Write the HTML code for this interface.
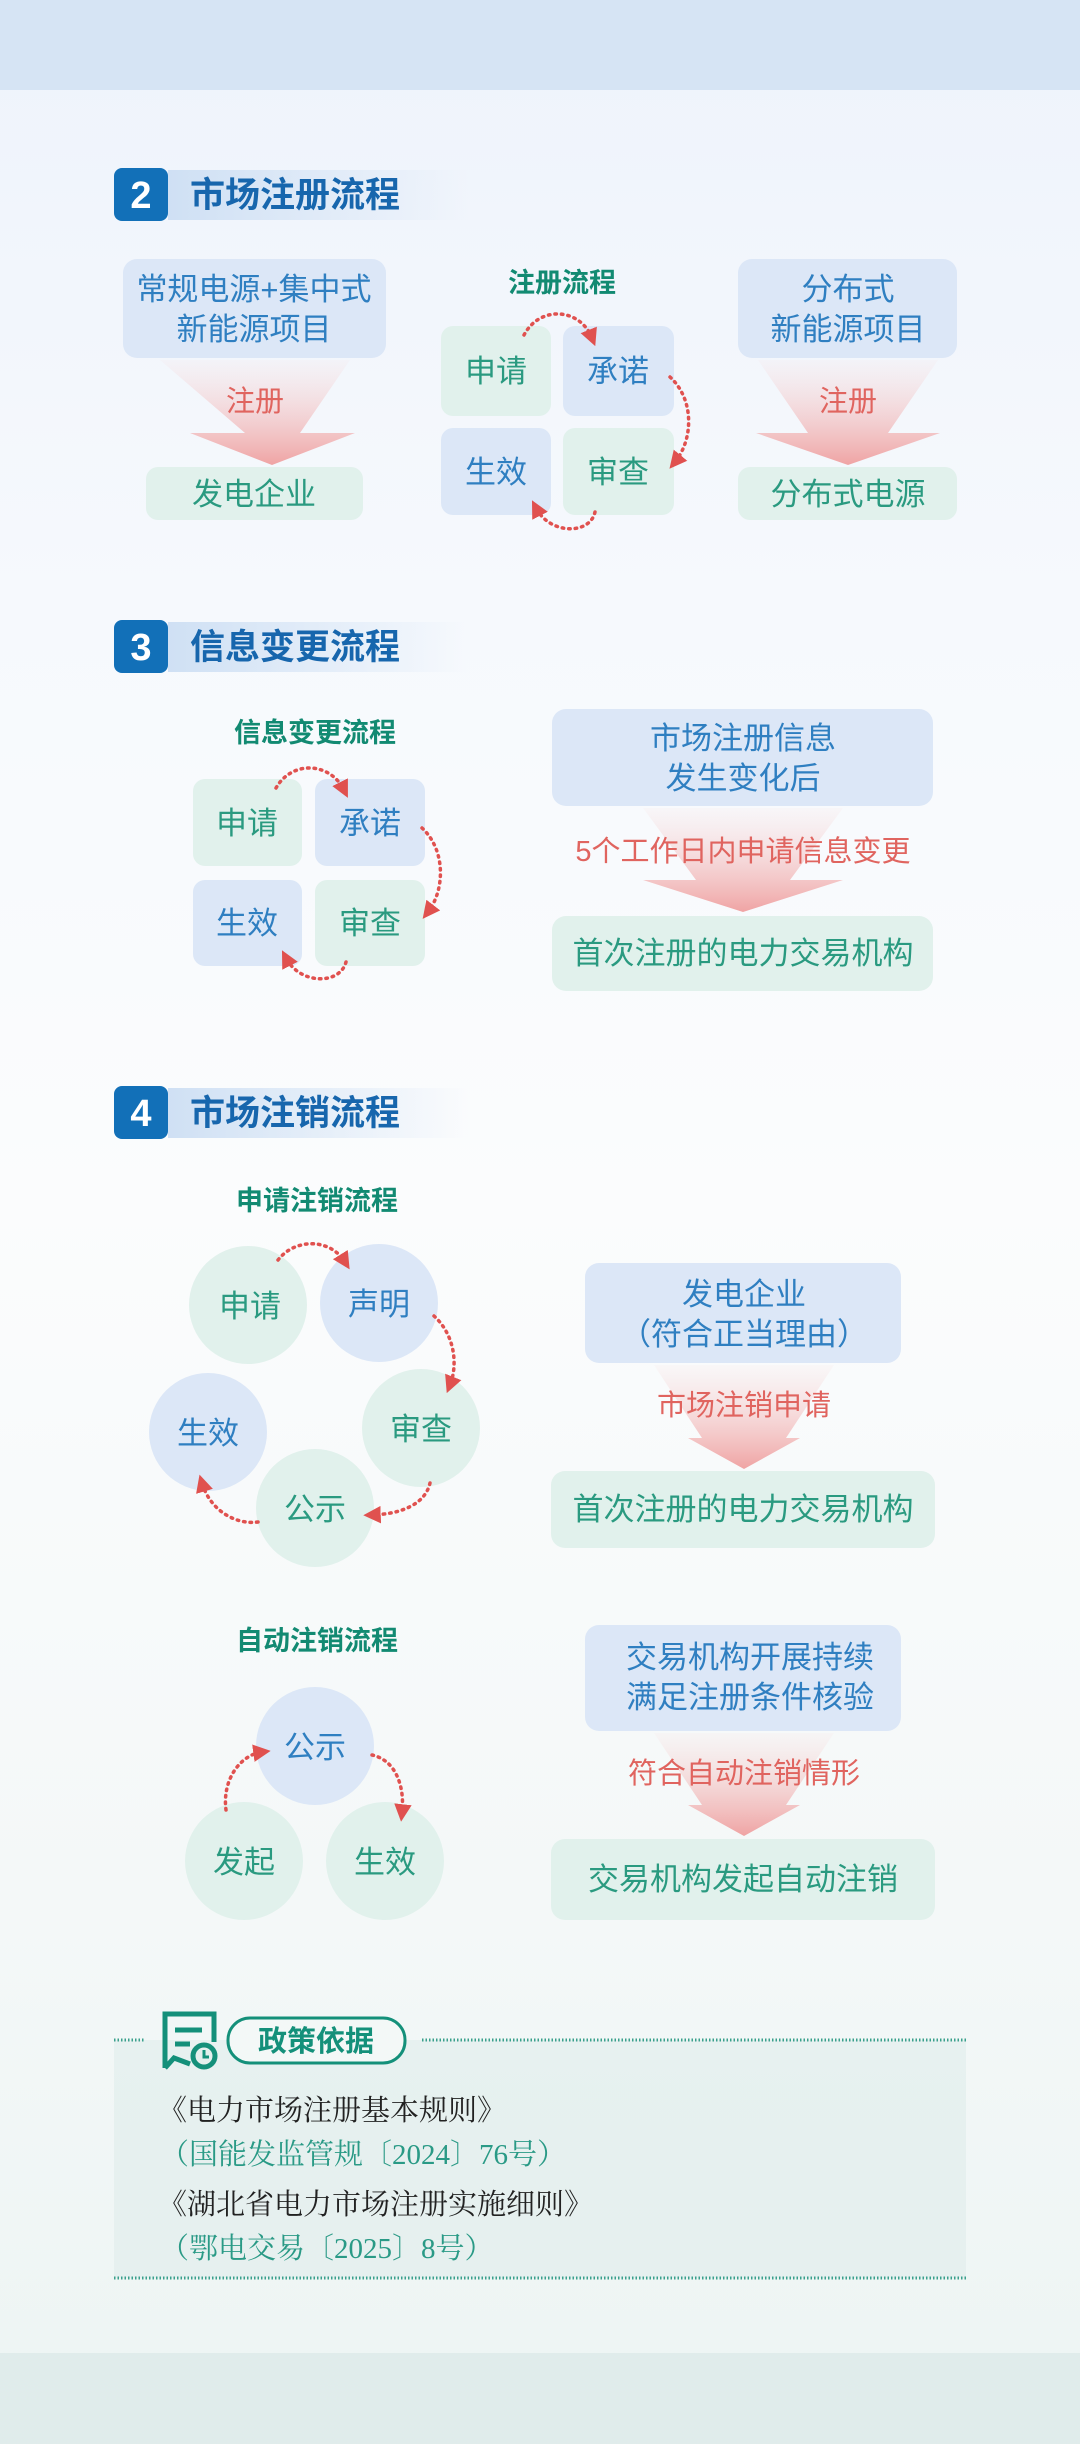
<!DOCTYPE html>
<html><head><meta charset="utf-8">
<style>
html,body{margin:0;padding:0;}
body{width:1080px;height:2444px;overflow:hidden;background:linear-gradient(#eef3fb 0px,#f6f9fd 600px,#fbfcfd 1200px,#f4f8f8 1900px,#eef5f4 2350px);}
svg{display:block;}
text{font-family:"Liberation Sans","Noto Sans CJK SC",sans-serif;}
</style></head><body>
<svg width="1080" height="2444" viewBox="0 0 1080 2444" xmlns="http://www.w3.org/2000/svg">
<defs>
<linearGradient id="ar" x1="0" y1="0" x2="0" y2="1">
<stop offset="0" stop-color="#f6d3d3" stop-opacity="0.1"/>
<stop offset="1" stop-color="#ef9f9f" stop-opacity="0.95"/>
</linearGradient>
<linearGradient id="hb" x1="0" y1="0" x2="1" y2="0">
<stop offset="0" stop-color="#cfe0f4"/>
<stop offset="1" stop-color="#cfe0f4" stop-opacity="0"/>
</linearGradient>
<marker id="m" viewBox="0 0 10 10" refX="5" refY="5" markerWidth="5" markerHeight="5" orient="auto">
<path d="M0,0 L10,5 L0,10 z" fill="#e0514f"/>
</marker>
<style>
.bb{fill:#dce7f7}.gb{fill:#e1f1ec}
.bt{fill:#2f7fc1;font-size:31px}.gt{fill:#2a9a80;font-size:31px}
.rt{fill:#e0645f;font-size:29px}
.st{fill:#128a72;font-size:27px;font-weight:bold}
.ht{fill:#1766ad;font-size:35px;font-weight:bold}
.dl{fill:none;stroke:#e0514f;stroke-width:3.5;stroke-dasharray:1.5 5;stroke-linecap:round}
</style>
</defs>
<rect x="0" y="0" width="1080" height="90" fill="#d6e4f4"/>
<rect x="0" y="2353" width="1080" height="91" fill="#e0eceb"/>

<!-- Section 2 header -->
<rect x="168" y="170" width="300" height="50" fill="url(#hb)"/>
<rect x="114" y="168" width="54" height="53" rx="8" fill="#1270b8"/>
<text x="141" y="208" text-anchor="middle" fill="#fff" font-size="38" font-weight="bold">2</text>
<text x="190" y="207" class="ht">市场注册流程</text>

<!-- left column -->
<rect x="123" y="259" width="263" height="99" rx="14" class="bb"/>
<text x="254" y="300" text-anchor="middle" class="bt">常规电源+集中式</text>
<text x="254" y="340" text-anchor="middle" class="bt">新能源项目</text>
<polygon points="160,360 350,360 300,433 355,433 272,465 190,433 245,433" fill="url(#ar)"/>
<text x="255" y="411" text-anchor="middle" class="rt">注册</text>
<rect x="146" y="467" width="217" height="53" rx="12" class="gb"/>
<text x="254" y="505" text-anchor="middle" class="gt">发电企业</text>

<!-- center grid -->
<text x="562" y="292" text-anchor="middle" class="st">注册流程</text>
<rect x="441" y="326" width="110" height="90" rx="12" class="gb"/>
<rect x="563" y="326" width="111" height="90" rx="12" class="bb"/>
<rect x="441" y="428" width="110" height="87" rx="12" class="bb"/>
<rect x="563" y="428" width="111" height="87" rx="12" class="gb"/>
<text x="496" y="382" text-anchor="middle" class="gt">申请</text>
<text x="618" y="382" text-anchor="middle" class="bt">承诺</text>
<text x="496" y="483" text-anchor="middle" class="bt">生效</text>
<text x="618" y="483" text-anchor="middle" class="gt">审查</text>
<path d="M524,335 C540,305 580,308 592,338" class="dl" marker-end="url(#m)"/>
<path d="M670,377 C695,400 693,440 675,462" class="dl" marker-end="url(#m)"/>
<path d="M595,512 C590,535 550,535 536,508" class="dl" marker-end="url(#m)"/>

<!-- right column -->
<rect x="738" y="259" width="219" height="99" rx="14" class="bb"/>
<text x="848" y="300" text-anchor="middle" class="bt">分布式</text>
<text x="848" y="340" text-anchor="middle" class="bt">新能源项目</text>
<polygon points="758,360 938,360 888,433 940,433 848,465 756,433 808,433" fill="url(#ar)"/>
<text x="848" y="411" text-anchor="middle" class="rt">注册</text>
<rect x="738" y="467" width="219" height="53" rx="12" class="gb"/>
<text x="848" y="505" text-anchor="middle" class="gt">分布式电源</text>

<!-- Section 3 header -->
<rect x="168" y="622" width="300" height="50" fill="url(#hb)"/>
<rect x="114" y="620" width="54" height="53" rx="8" fill="#1270b8"/>
<text x="141" y="660" text-anchor="middle" fill="#fff" font-size="38" font-weight="bold">3</text>
<text x="190" y="659" class="ht">信息变更流程</text>

<text x="315" y="742" text-anchor="middle" class="st">信息变更流程</text>
<rect x="193" y="779" width="109" height="87" rx="12" class="gb"/>
<rect x="315" y="779" width="110" height="87" rx="12" class="bb"/>
<rect x="193" y="880" width="109" height="86" rx="12" class="bb"/>
<rect x="315" y="880" width="110" height="86" rx="12" class="gb"/>
<text x="247" y="834" text-anchor="middle" class="gt">申请</text>
<text x="370" y="834" text-anchor="middle" class="bt">承诺</text>
<text x="247" y="934" text-anchor="middle" class="bt">生效</text>
<text x="370" y="934" text-anchor="middle" class="gt">审查</text>
<path d="M276,788 C292,760 330,762 344,790" class="dl" marker-end="url(#m)"/>
<path d="M422,828 C446,850 445,890 428,912" class="dl" marker-end="url(#m)"/>
<path d="M346,962 C340,985 300,985 286,958" class="dl" marker-end="url(#m)"/>

<rect x="552" y="709" width="381" height="97" rx="14" class="bb"/>
<text x="743" y="749" text-anchor="middle" class="bt">市场注册信息</text>
<text x="743" y="789" text-anchor="middle" class="bt">发生变化后</text>
<polygon points="643,808 843,808 790,880 843,880 743,912 643,880 696,880" fill="url(#ar)"/>
<text x="743" y="861" text-anchor="middle" class="rt">5个工作日内申请信息变更</text>
<rect x="552" y="916" width="381" height="75" rx="14" class="gb"/>
<text x="743" y="964" text-anchor="middle" class="gt">首次注册的电力交易机构</text>

<!-- Section 4 header -->
<rect x="168" y="1088" width="300" height="50" fill="url(#hb)"/>
<rect x="114" y="1086" width="54" height="53" rx="8" fill="#1270b8"/>
<text x="141" y="1126" text-anchor="middle" fill="#fff" font-size="38" font-weight="bold">4</text>
<text x="190" y="1125" class="ht">市场注销流程</text>

<text x="317" y="1210" text-anchor="middle" class="st">申请注销流程</text>
<ellipse cx="248" cy="1305" rx="59" ry="59" class="gb"/>
<ellipse cx="379" cy="1303" rx="59" ry="59" class="bb"/>
<ellipse cx="421" cy="1428" rx="59" ry="59" class="gb"/>
<ellipse cx="208" cy="1432" rx="59" ry="59" class="bb"/>
<ellipse cx="315" cy="1508" rx="59" ry="59" class="gb"/>
<text x="250" y="1317" text-anchor="middle" class="gt">申请</text>
<text x="379" y="1315" text-anchor="middle" class="bt">声明</text>
<text x="421" y="1440" text-anchor="middle" class="gt">审查</text>
<text x="208" y="1444" text-anchor="middle" class="bt">生效</text>
<text x="315" y="1520" text-anchor="middle" class="gt">公示</text>
<path d="M278,1260 C295,1238 330,1238 345,1262" class="dl" marker-end="url(#m)"/>
<path d="M434,1316 C455,1335 458,1365 450,1385" class="dl" marker-end="url(#m)"/>
<path d="M430,1483 C425,1505 400,1514 372,1515" class="dl" marker-end="url(#m)"/>
<path d="M258,1522 C235,1525 210,1510 202,1483" class="dl" marker-end="url(#m)"/>

<rect x="585" y="1263" width="316" height="100" rx="14" class="bb"/>
<text x="744" y="1305" text-anchor="middle" class="bt">发电企业</text>
<text x="744" y="1345" text-anchor="middle" class="bt">（符合正当理由）</text>
<polygon points="654,1365 834,1365 786,1438 800,1438 744,1469 688,1438 702,1438" fill="url(#ar)"/>
<text x="744" y="1415" text-anchor="middle" class="rt">市场注销申请</text>
<rect x="551" y="1471" width="384" height="77" rx="14" class="gb"/>
<text x="743" y="1520" text-anchor="middle" class="gt">首次注册的电力交易机构</text>

<text x="317" y="1650" text-anchor="middle" class="st">自动注销流程</text>
<ellipse cx="315" cy="1746" rx="59" ry="59" class="bb"/>
<ellipse cx="244" cy="1861" rx="59" ry="59" class="gb"/>
<ellipse cx="385" cy="1861" rx="59" ry="59" class="gb"/>
<text x="315" y="1758" text-anchor="middle" class="bt">公示</text>
<text x="244" y="1873" text-anchor="middle" class="gt">发起</text>
<text x="385" y="1873" text-anchor="middle" class="gt">生效</text>
<path d="M226,1810 C222,1780 240,1755 262,1752" class="dl" marker-end="url(#m)"/>
<path d="M372,1755 C395,1760 405,1785 402,1813" class="dl" marker-end="url(#m)"/>

<rect x="585" y="1625" width="316" height="106" rx="14" class="bb"/>
<text x="750" y="1668" text-anchor="middle" class="bt">交易机构开展持续</text>
<text x="750" y="1708" text-anchor="middle" class="bt">满足注册条件核验</text>
<polygon points="654,1733 834,1733 786,1805 800,1805 744,1836 688,1805 702,1805" fill="url(#ar)"/>
<text x="744" y="1783" text-anchor="middle" class="rt">符合自动注销情形</text>
<rect x="551" y="1839" width="384" height="81" rx="14" class="gb"/>
<text x="743" y="1890" text-anchor="middle" class="gt">交易机构发起自动注销</text>

<!-- Policy -->
<rect x="114" y="2040" width="852" height="238" fill="#e4efed" opacity="0.8"/>
<line x1="114" y1="2040" x2="145" y2="2040" stroke="#3aa08c" stroke-width="3" stroke-dasharray="1.5 2"/>
<line x1="422" y1="2040" x2="966" y2="2040" stroke="#3aa08c" stroke-width="3" stroke-dasharray="1.5 2"/>
<line x1="114" y1="2278" x2="966" y2="2278" stroke="#3aa08c" stroke-width="3" stroke-dasharray="1.5 2"/>
<g fill="none" stroke="#14907a" stroke-width="5">
<path d="M165,2068 L165,2014 L214,2014 L214,2042"/>
<path d="M165,2068 L174,2058 L190,2064"/>
<line x1="175" y1="2030" x2="202" y2="2030"/>
<line x1="175" y1="2044" x2="190" y2="2044"/>
<circle cx="204" cy="2056" r="11" fill="#e4efed"/>
<path d="M204,2050 L204,2057 L209,2057" stroke-width="3"/>
</g>
<rect x="228" y="2018" width="177" height="45" rx="22" fill="#f3f8f7" stroke="#14907a" stroke-width="3"/>
<text x="316" y="2051" text-anchor="middle" fill="#14907a" font-size="29" font-weight="bold">政策依据</text>
<g style="font-family:'Liberation Serif','Noto Serif CJK SC',serif" font-size="29">
<text x="158" y="2120" fill="#222" style="font-family:'Liberation Serif','Noto Serif CJK SC',serif">《电力市场注册基本规则》</text>
<text x="160" y="2164" fill="#2a9a86" style="font-family:'Liberation Serif','Noto Serif CJK SC',serif">（国能发监管规〔2024〕76号）</text>
<text x="158" y="2214" fill="#222" style="font-family:'Liberation Serif','Noto Serif CJK SC',serif">《湖北省电力市场注册实施细则》</text>
<text x="160" y="2258" fill="#2a9a86" style="font-family:'Liberation Serif','Noto Serif CJK SC',serif">（鄂电交易〔2025〕8号）</text>
</g>
</svg>
</body></html>
